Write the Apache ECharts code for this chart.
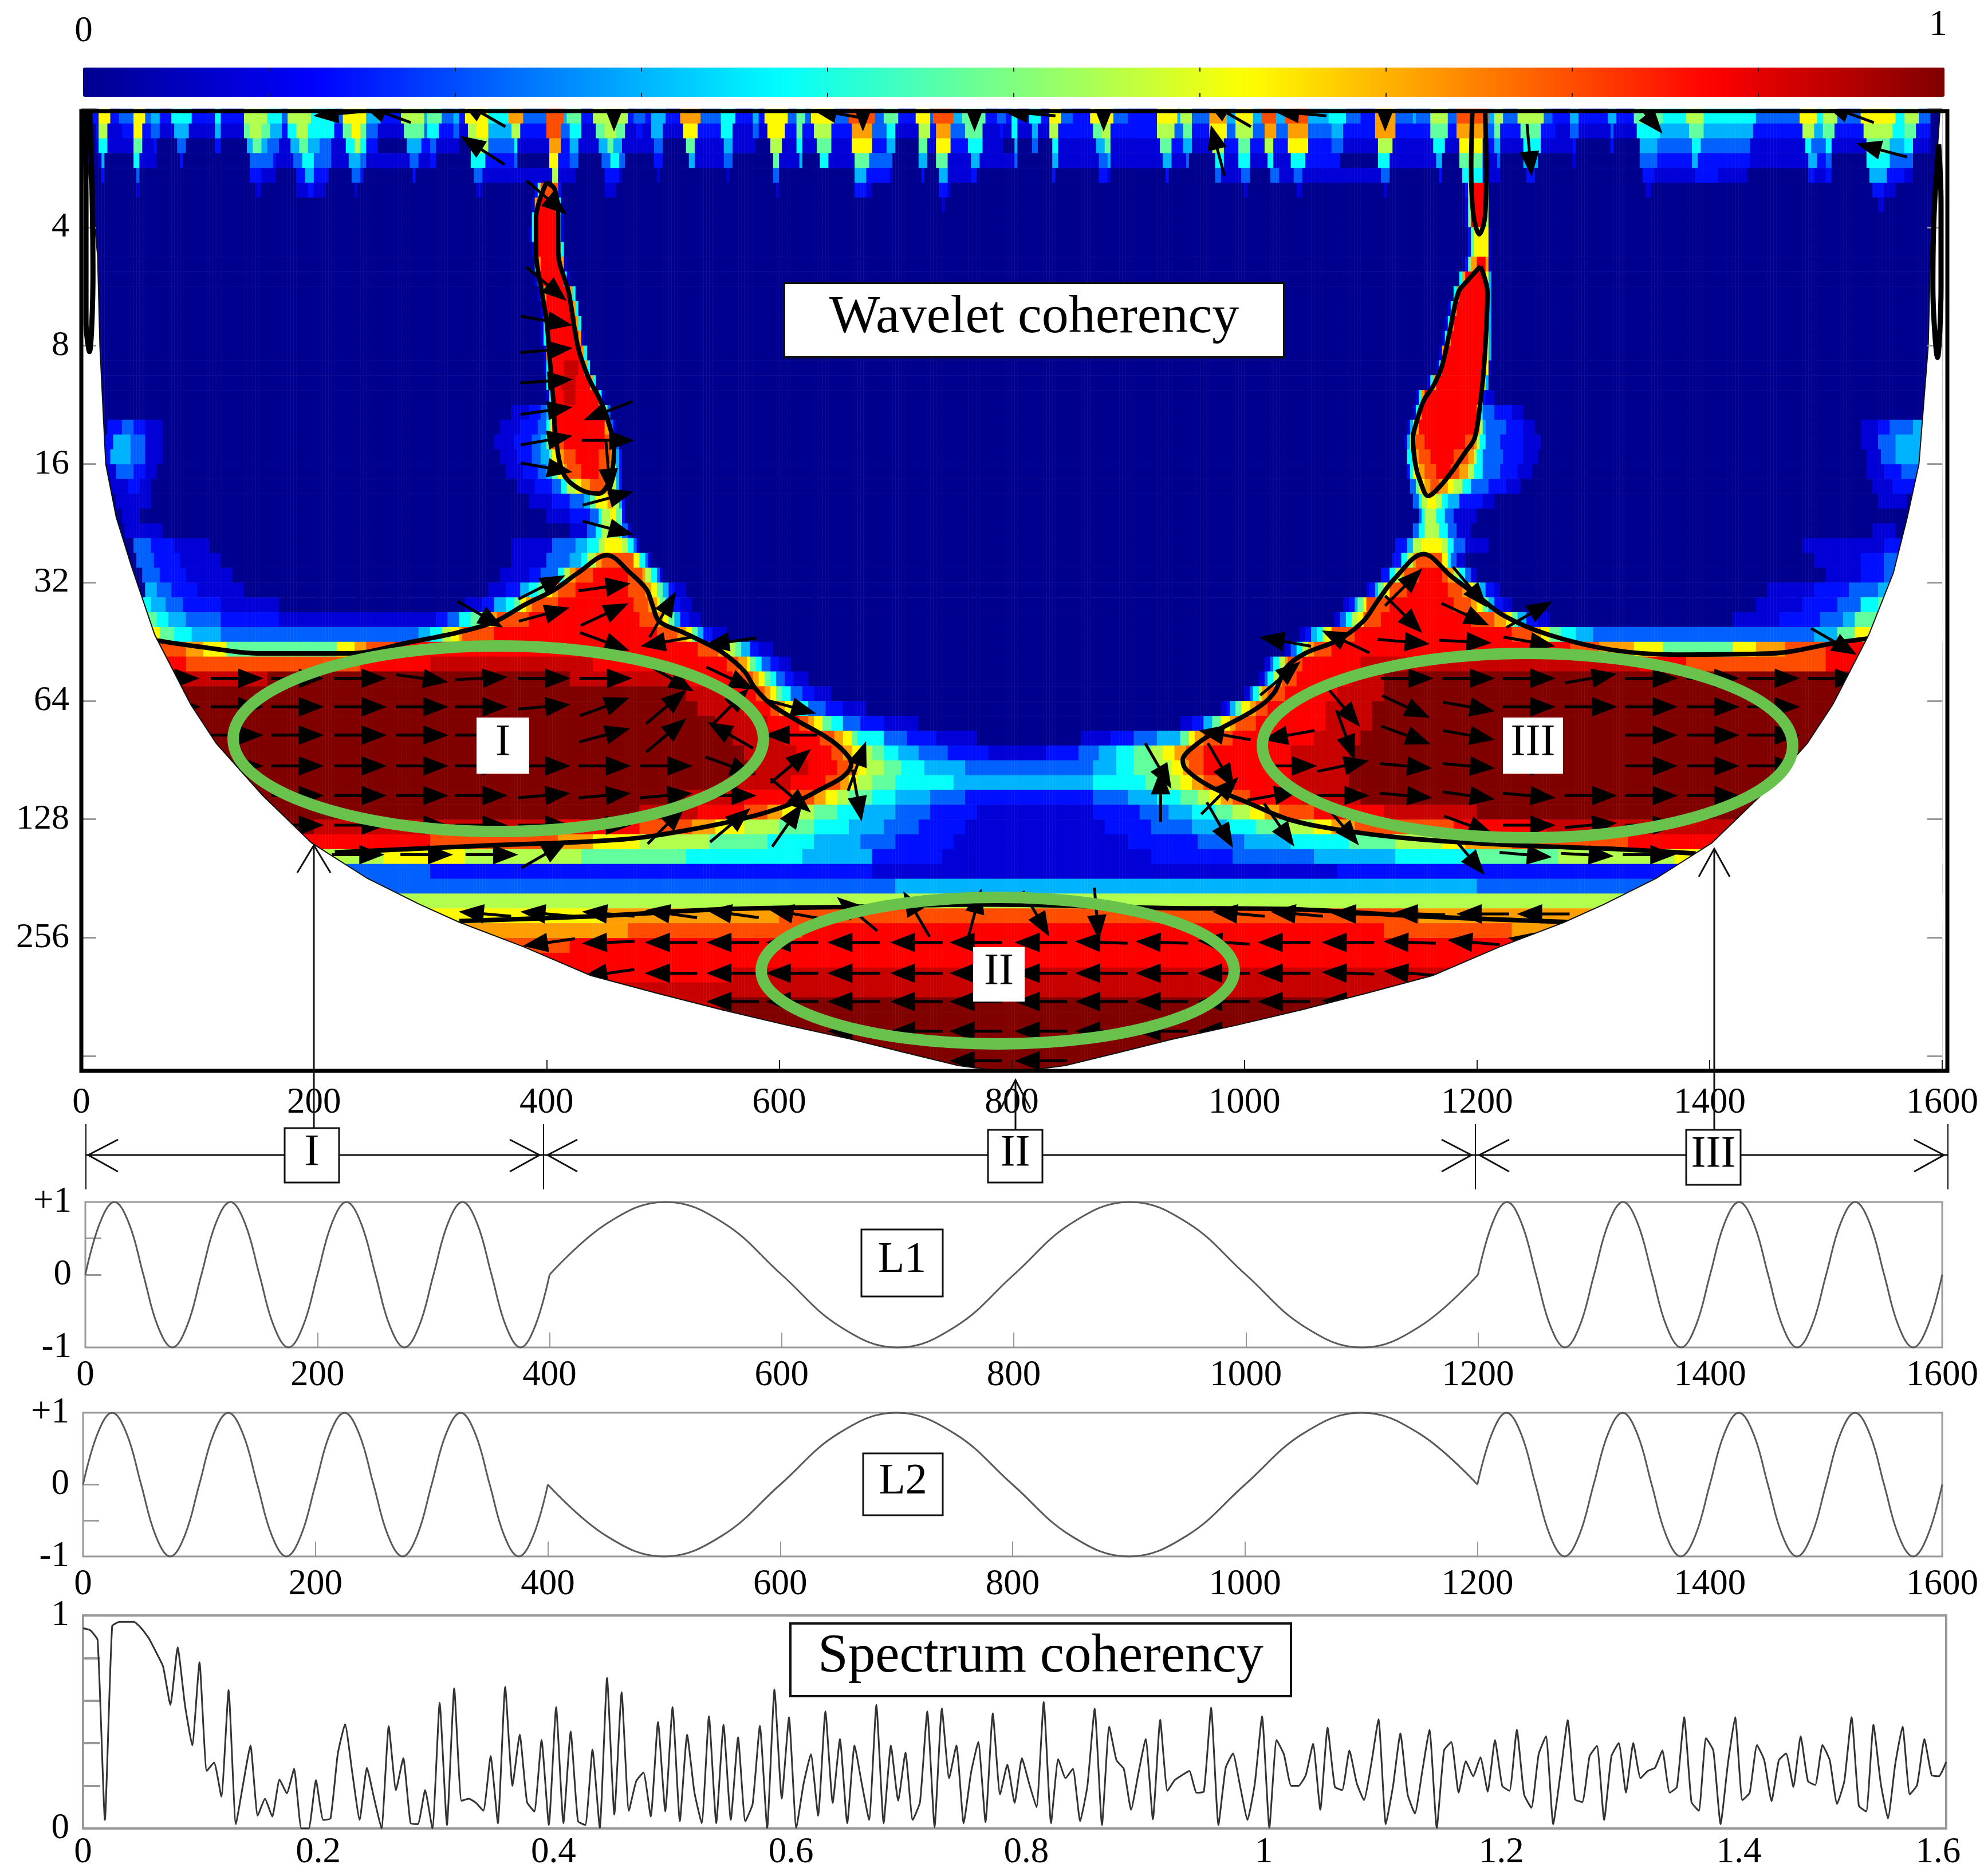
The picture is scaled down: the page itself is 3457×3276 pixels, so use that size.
<!DOCTYPE html>
<html><head><meta charset="utf-8">
<style>html,body{margin:0;padding:0;background:#fff}#c{width:3457px;height:3276px}</style>
<script src="https://cdn.jsdelivr.net/npm/echarts@6/dist/echarts.min.js"></script>
</head><body><div id="c"></div>
<script>
// ---------- wavelet coherency, run-length rows: "time:level" (level holds until next entry)
const levelCodes = '0123456789abcd';
const levelValues = [0,0.08,0.14,0.22,0.30,0.38,0.47,0.55,0.63,0.72,0.80,0.875,0.93,1];
const coherencyRows = [
"0:0 10:2 14:8 24:2 32:3 44:8 54:3 60:4 68:2 78:5 94:2 100:2 115:5 121:2 128:2 140:7 160:5 172:3 178:7 198:5 218:3 225:8 245:4 258:2 276:7 296:4 298:6 310:3 320:4 326:2 330:8 350:5 368:9 380:3 400:a 414:4 418:6 430:2 440:7 470:2 476:3 484:2 490:4 502:2 516:9 532:3 550:5 562:2 577:4 583:2 588:8 608:3 614:6 622:3 628:8 648:3 660:a 682:3 690:6 702:2 718:8 730:3 732:a 750:4 758:6 778:2 788:3 794:2 800:5 806:2 816:5 824:2 832:8 842:3 852:2 868:8 888:3 900:2 925:8 942:4 946:7 956:3 970:9 985:4 992:8 1008:4 1016:a 1028:4 1036:a 1056:4 1072:5 1088:3 1100:2 1112:9 1130:3 1145:4 1148:3 1160:7 1176:3 1182:a 1210:4 1214:7 1222:3 1235:7 1258:3 1266:2 1280:4 1288:2 1313:4 1319:2 1335:6 1360:5 1370:5 1380:7 1396:5 1416:5 1425:5 1440:3 1478:8 1492:5 1497:7 1510:3 1530:8 1560:5 1568:7 1580:3 1590:0",
"0:0 12:2 15:7 23:1 34:2 45:8 53:2 61:3 67:1 80:4 92:1 115:4 121:1 140:6 146:7 156:6 162:4 172:2 178:5 186:7 196:5 218:2 226:6 232:8 240:6 246:3 256:1 278:6 294:3 298:5 308:2 321:3 325:1 332:7 340:8 350:4 370:7 378:2 401:a 413:3 419:5 429:1 443:6 450:7 460:6 468:1 477:2 483:1 491:4 501:1 518:8 530:2 551:5 561:1 578:3 582:1 590:8 604:2 615:6 621:2 630:7 646:2 662:9 680:3 692:5 700:1 719:7 729:2 734:9 748:3 760:6 776:1 789:2 793:1 801:5 805:1 817:4 823:1 833:7 841:2 870:6 878:7 886:2 926:7 940:3 947:6 955:2 971:8 984:3 993:7 1007:3 1017:9 1027:3 1037:9 1055:3 1074:4 1086:2 1113:9 1129:2 1161:6 1175:2 1183:9 1208:3 1215:6 1221:2 1237:6 1256:2 1268:1 1281:3 1287:1 1314:3 1318:1 1337:5 1358:4 1368:4 1382:6 1394:4 1414:4 1425:4 1438:2 1480:7 1490:4 1498:6 1508:2 1532:7 1558:5 1568:6 1578:2 1590:0",
"0:0 13:1 16:5 22:1 36:1 46:6 52:1 62:2 66:0 82:3 90:0 116:2 120:0 142:4 148:6 154:4 160:3 170:1 180:4 188:6 194:4 205:3 216:1 228:5 234:7 240:5 246:2 254:0 280:4 292:2 300:3 306:1 322:1 324:0 334:6 342:7 350:3 372:5 376:1 402:9 412:2 420:4 428:1 445:4 452:6 458:4 466:1 492:3 500:0 520:6 528:1 552:4 560:1 579:2 581:0 592:7 602:1 616:5 620:1 632:6 644:1 663:8 680:2 693:4 699:0 720:6 728:1 735:8 747:2 762:5 774:1 790:1 792:0 802:4 804:0 818:3 822:0 834:5 840:1 872:4 880:6 884:1 928:6 938:2 948:4 954:1 972:7 983:2 994:6 1006:2 1018:7 1026:2 1038:8 1054:2 1076:3 1084:1 1114:7 1128:1 1163:5 1173:1 1184:8 1206:2 1216:4 1220:1 1239:5 1254:1 1282:2 1286:0 1315:2 1317:0 1339:4 1356:3 1366:3 1384:5 1392:3 1412:3 1426:3 1436:1 1482:5 1488:3 1499:5 1506:1 1534:6 1556:4 1568:5 1576:1 1590:0",
"0:0 14:1 17:4 21:0 46:5 51:1 63:1 65:0 84:2 88:0 144:3 156:3 164:2 168:1 182:3 190:5 200:3 214:1 230:4 240:3 244:1 282:3 290:1 301:2 305:0 336:5 348:2 373:3 375:0 403:8 411:2 421:3 427:0 447:3 455:5 463:3 467:0 493:2 499:0 522:4 527:1 553:3 559:0 594:6 601:1 617:4 619:0 634:5 642:1 664:6 678:3 694:3 698:0 721:4 727:0 736:6 746:1 764:4 772:1 803:3 804:0 819:2 821:0 835:4 839:1 874:3 882:4 884:1 930:4 937:1 950:3 953:0 974:5 982:1 996:5 1005:1 1020:5 1025:1 1040:5 1052:2 1078:2 1082:0 1116:5 1126:1 1165:4 1171:0 1186:6 1206:1 1217:3 1219:0 1241:4 1252:0 1283:1 1285:0 1341:3 1354:2 1364:2 1386:4 1390:2 1410:2 1427:2 1434:1 1484:4 1492:2 1500:3 1505:0 1536:5 1554:3 1570:3 1576:0",
"0:0 18:2 20:0 47:3 50:0 146:2 156:1 168:0 184:2 192:4 200:2 212:0 232:3 240:2 242:0 284:2 288:0 338:3 346:1 404:7 410:1 422:1 426:0 449:2 462:1 466:0 494:1 498:0 524:2 526:0 554:1 558:0 596:3 600:0 665:4 676:2 695:1 697:0 722:2 726:0 737:4 745:1 766:2 770:0 804:1 805:0 836:2 838:0 876:2 882:1 884:0 932:2 936:0 976:3 981:1 998:3 1004:0 1022:3 1030:1 1042:3 1050:1 1118:3 1124:0 1167:2 1170:0 1188:5 1204:1 1218:1 1219:0 1243:2 1250:0 1343:2 1352:1 1362:1 1388:2 1408:1 1428:1 1432:0 1486:2 1490:1 1500:2 1504:0 1538:4 1552:2 1568:1 1574:0",
"0:0 48:1 49:0 150:1 154:0 186:1 194:2 200:1 210:0 234:1 238:0 340:1 344:0 391:2 393:6 396:a 406:a 409:6 411:2 413:0 450:1 460:0 598:1 599:0 666:2 674:1 680:0 738:2 744:1 748:0 1000:1 1003:0 1044:1 1050:0 1120:1 1123:0 1190:2 1193:7 1196:b 1207:7 1209:3 1211:0 1345:1 1350:0 1540:2 1550:1 1560:0",
"0:0 388:1 389:5 391:9 393:b 408:9 410:5 412:1 413:0 740:1 742:0 1190:1 1192:6 1195:b 1207:7 1209:3 1211:0 1544:1 1550:0",
"0:0 387:1 388:5 390:9 392:b 409:9 411:5 413:1 414:0 1191:1 1192:6 1195:b 1208:7 1210:3 1211:0",
"0:0 386:1 387:5 389:9 391:b 409:9 411:5 413:1 414:0 1193:2 1195:6 1197:8 1207:8 1209:4 1211:1 1212:0",
"0:0 388:1 389:5 391:9 393:b 410:9 412:5 414:1 415:0 1193:2 1195:6 1197:8 1207:8 1209:4 1211:1 1212:0",
"0:0 389:1 390:5 392:9 394:b 412:9 414:5 416:1 417:0 1191:2 1193:6 1196:9 1200:b 1207:9 1209:5 1211:1 1212:0",
"0:0 390:1 392:5 394:9 396:b 414:9 416:5 418:1 419:0 1184:1 1186:5 1188:9 1190:b 1208:8 1210:4 1212:1 1213:0",
"0:0 393:1 395:5 397:9 399:b 420:9 422:5 425:1 426:0 1179:1 1181:5 1183:9 1185:b 1208:8 1210:4 1212:1 1213:0",
"0:0 395:1 397:5 399:9 401:b 423:9 425:5 427:1 428:0 1176:1 1178:5 1180:9 1182:b 1208:8 1210:4 1212:1 1213:0",
"0:0 395:1 397:5 399:9 401:b 425:9 427:5 429:1 430:0 1173:1 1175:5 1177:9 1179:b 1208:8 1210:4 1212:1 1213:0",
"0:0 396:1 398:5 400:9 402:b 427:9 429:5 431:1 432:0 1171:1 1173:5 1175:9 1177:b 1208:8 1210:4 1212:1 1213:0",
"0:0 397:1 399:5 401:9 403:b 430:9 432:5 434:1 435:0 1167:1 1169:5 1171:9 1173:b 1208:8 1210:4 1212:1 1213:0",
"0:0 398:1 400:5 402:9 404:b 415:c 428:b 433:9 435:5 437:1 438:0 1165:1 1167:5 1169:9 1171:b 1207:8 1209:4 1211:1 1212:0",
"0:0 399:1 401:5 403:9 405:b 412:c 425:b 438:9 440:5 442:1 443:0 1157:1 1160:5 1162:9 1164:b 1205:8 1207:4 1209:1 1210:0",
"0:0 400:1 402:5 404:9 406:b 416:c 426:b 444:9 446:5 448:1 449:0 1148:1 1151:5 1153:9 1155:b 1202:8 1204:5 1206:2 1208:1 1215:0",
"0:0 370:1 385:2 395:3 401:4 403:6 405:9 407:b 449:9 451:6 453:3 455:1 456:0 1145:1 1148:5 1150:9 1152:b 1201:8 1203:5 1205:3 1215:2 1230:1 1240:0",
"0:0 22:2 35:3 45:2 55:1 70:0 360:1 378:2 392:3 399:5 402:7 404:9 406:b 451:9 454:6 456:3 458:1 459:0 1140:1 1143:4 1146:7 1148:9 1150:b 1200:9 1202:7 1204:4 1208:3 1225:2 1240:1 1250:0 1530:1 1545:2 1555:3 1575:4",
"0:0 20:2 28:4 42:3 55:1 70:0 355:1 372:2 388:3 396:4 400:6 403:9 405:a 415:b 450:a 456:9 458:6 460:3 462:1 463:0 1138:1 1141:4 1143:7 1145:9 1147:a 1155:b 1190:a 1198:9 1201:7 1203:5 1207:3 1220:2 1240:1 1255:0 1530:1 1545:3 1560:4",
"0:0 20:2 26:4 42:3 55:1 70:0 360:1 375:2 388:3 396:4 402:6 406:8 410:9 414:a 425:b 445:a 455:9 459:7 461:4 463:2 465:0 1139:2 1141:5 1144:8 1147:9 1150:a 1160:b 1180:a 1192:9 1197:7 1201:5 1206:3 1222:2 1240:1 1252:0 1535:1 1548:3 1560:4",
"0:0 22:1 30:3 45:2 55:1 65:0 365:1 380:2 392:3 400:4 406:6 410:8 414:9 418:a 430:b 445:a 452:9 458:7 461:4 463:2 465:0 1140:2 1143:5 1146:8 1150:9 1155:a 1165:b 1178:a 1186:9 1192:7 1197:5 1204:3 1220:2 1235:1 1248:0 1535:1 1550:2 1565:3",
"0:0 25:1 40:2 50:1 60:0 375:1 390:2 405:3 412:5 418:7 425:8 430:9 438:a 450:9 456:7 460:4 463:2 465:0 1143:3 1147:6 1151:8 1155:9 1160:a 1168:9 1175:8 1180:7 1187:5 1194:3 1210:2 1225:1 1238:0 1540:1 1558:2",
"0:0 30:1 45:1 60:0 385:1 405:2 420:3 432:4 438:6 443:8 452:9 458:7 462:4 465:2 468:0 1146:3 1150:5 1153:7 1158:8 1165:7 1170:5 1176:4 1185:2 1205:1 1215:0 1545:1 1570:0",
"0:0 35:1 50:0 400:1 420:2 438:3 444:5 448:7 456:8 461:6 464:4 466:2 468:0 1150:3 1153:5 1156:7 1162:7 1166:5 1172:3 1180:1 1200:0",
"0:0 38:1 70:0 420:1 434:3 442:5 447:7 456:7 462:5 466:3 470:1 472:0 1146:3 1150:5 1155:7 1163:7 1168:5 1174:3 1182:1 1195:0 1540:1 1560:0",
"0:0 45:3 60:2 80:1 110:0 370:1 405:3 425:4 436:5 444:7 450:8 465:7 470:5 474:3 478:1 480:0 1130:2 1140:4 1146:7 1152:8 1170:7 1176:5 1181:3 1190:1 1210:0 1480:1 1550:2 1570:3",
"0:0 48:3 62:2 85:1 120:0 370:1 400:3 420:4 430:5 436:7 442:9 447:a 475:8 480:5 484:3 488:1 490:0 1128:2 1135:5 1140:7 1145:9 1148:a 1170:8 1174:5 1178:3 1182:1 1190:0 1490:1 1530:2 1550:3 1570:4",
"0:0 52:3 68:2 90:1 130:0 360:1 385:2 395:3 410:5 416:7 420:9 424:a 440:b 470:a 482:9 486:7 490:5 494:3 498:1 500:0 1118:2 1125:5 1130:7 1134:9 1138:a 1150:b 1170:a 1176:9 1180:7 1184:5 1190:3 1196:1 1200:0 1500:1 1530:2 1550:3 1575:5",
"0:0 55:4 66:3 78:2 100:1 140:0 350:1 365:2 378:4 385:5 393:6 400:8 405:9 410:a 425:b 470:a 484:9 489:8 494:6 499:4 504:2 510:1 520:0 1105:1 1108:2 1112:4 1116:6 1120:8 1124:a 1140:b 1175:a 1188:9 1193:8 1198:6 1203:4 1208:2 1214:1 1220:0 1450:1 1490:2 1520:3 1545:4 1560:5",
"0:0 50:5 60:4 72:3 88:2 120:1 170:0 330:1 345:2 355:4 365:5 372:6 378:8 382:9 387:a 410:b 475:a 488:9 494:8 498:6 503:4 508:2 515:1 525:0 1085:1 1090:2 1094:4 1098:6 1102:8 1106:a 1125:b 1180:a 1195:9 1200:8 1205:6 1210:4 1215:2 1222:1 1230:0 1440:1 1480:2 1510:3 1530:5 1545:6",
"0:6 65:5 75:4 90:3 120:2 170:1 290:1 305:2 315:3 325:5 335:6 345:8 352:9 358:a 385:b 480:a 494:9 500:8 504:6 510:4 516:2 523:1 533:0 1078:1 1083:3 1088:5 1092:7 1097:8 1102:a 1118:b 1195:a 1215:9 1224:8 1230:6 1236:4 1242:2 1252:1 1262:0 1420:1 1460:2 1495:3 1515:4 1525:6",
"0:8 68:6 80:5 95:4 120:3 170:3 240:3 275:3 290:4 300:5 310:7 318:8 324:9 328:a 355:b 495:a 512:9 519:8 524:6 530:4 536:2 543:1 555:0 1048:1 1053:2 1058:4 1063:5 1067:7 1071:8 1076:a 1095:b 1230:a 1247:9 1255:8 1262:6 1272:5 1285:4 1300:3 1330:3 1440:3 1490:4 1510:6 1525:8",
"0:a 90:9 105:8 125:6 220:8 235:9 245:a 270:b 530:a 548:9 553:8 558:7 562:6 568:4 575:2 582:1 595:0 1035:1 1040:3 1045:5 1050:7 1055:9 1060:a 1075:b 1280:a 1305:9 1335:8 1360:6 1420:8 1440:9 1465:a 1500:b",
"0:b 90:a 240:b 300:c 440:b 555:a 566:9 572:8 576:6 580:5 585:3 592:2 600:1 610:0 1018:1 1022:3 1026:5 1030:7 1034:9 1038:a 1050:b 1100:c 1340:b 1380:a 1500:b 1540:c",
"0:c 160:d 420:c 520:b 560:a 577:9 582:8 587:6 592:5 598:3 605:2 612:1 625:0 1013:1 1017:3 1021:5 1025:7 1029:9 1033:a 1045:b 1090:c 1120:d",
"0:d 470:d 520:c 560:b 580:a 588:9 593:8 598:6 603:5 610:3 620:2 630:1 645:0 1000:1 1004:3 1008:5 1012:7 1016:9 1021:a 1035:b 1080:c 1120:d",
"0:d 490:d 530:c 570:b 592:a 600:9 606:8 612:6 618:5 626:3 640:2 655:1 675:0 980:1 984:2 988:4 992:6 998:8 1004:9 1009:a 1020:b 1070:c 1110:d",
"0:d 500:d 545:c 590:b 618:a 625:9 631:8 638:6 645:5 655:3 670:2 690:1 720:0 945:1 955:2 965:4 972:6 980:8 987:9 992:a 1010:b 1070:c 1110:d",
"0:d 520:d 560:c 605:b 635:a 648:9 655:8 662:6 668:5 690:3 710:2 735:1 770:0 860:1 885:2 905:3 925:4 945:6 952:8 958:9 965:a 990:b 1060:c 1100:d",
"0:d 530:d 570:c 615:b 645:a 656:9 662:8 670:7 680:6 690:5 702:4 720:3 745:2 780:1 830:2 858:3 875:4 890:5 905:6 920:7 930:8 940:9 950:a 965:b 1040:c 1090:d",
"0:d 540:d 580:c 625:b 650:a 662:9 668:8 675:7 690:6 705:5 725:4 760:3 870:4 890:5 905:6 925:7 938:8 947:9 952:a 965:b 1040:c 1090:d",
"0:d 520:d 565:c 610:b 640:a 652:9 660:8 668:7 680:6 700:5 750:4 870:5 915:6 930:7 945:8 955:9 965:a 985:b 1040:c 1090:d",
"0:d 470:d 520:c 570:b 610:a 630:9 640:8 650:7 660:6 680:5 700:4 730:3 760:2 870:3 900:4 925:5 945:6 960:7 970:8 980:9 990:a 1005:b 1050:c 1100:d",
"0:d 430:d 480:c 530:b 570:a 590:9 602:8 615:7 630:6 650:5 670:4 700:3 730:2 770:1 870:2 910:3 935:4 955:5 975:6 990:7 1005:8 1018:9 1030:a 1060:b 1120:c 1200:d",
"0:d 200:c 400:b 480:a 525:9 545:8 570:7 600:6 630:5 660:4 690:3 720:2 760:1 880:2 920:3 955:4 985:5 1010:6 1035:7 1060:8 1075:9 1095:a 1180:b 1260:c",
"0:b 300:a 410:9 440:8 480:7 540:6 590:5 630:4 670:3 700:2 750:1 900:2 960:3 1000:4 1040:5 1090:6 1130:7 1170:8 1190:9 1230:a 1330:b",
"0:6 200:7 260:8 330:7 430:6 520:5 620:4 680:2 740:1 920:2 990:3 1060:4 1130:5 1200:6 1270:7 1370:8 1400:6",
"0:3 300:2 680:1 920:1 1080:2",
"0:3 700:4 1000:4 1200:3",
"0:7",
"0:8 450:9 600:a 1150:9 1300:8",
"0:9 470:a 620:b 980:b 1120:a 1230:9",
"0:a 420:b 1200:b 1270:a",
"0:b",
"0:b 560:c 1040:c 1200:b",
"0:c",
"0:c 550:d 1050:d 1300:c",
"0:d","0:d","0:d","0:d"
];
// cone of influence (time, log2 scale)
const coiLeft = [[0,1],[2,1.03],[7,1.62],[11,1.93],[14,2.24],[16,3.01],[21,4.0],[30,4.45],[43,4.86],[63,5.44],[94,6.03],[116,6.36],[156,6.8],[198,7.2],[246,7.5],[291,7.72],[325,7.87],[381,8.08],[438,8.32],[495,8.47],[551,8.61],[607,8.74],[663,8.86],[708,8.97],[754,9.08],[800,9.14]];
const coiRight = [[846,9.08],[892,8.97],[937,8.86],[993,8.74],[1049,8.61],[1105,8.47],[1162,8.32],[1219,8.08],[1275,7.87],[1309,7.72],[1354,7.5],[1402,7.2],[1444,6.8],[1484,6.36],[1506,6.03],[1537,5.44],[1558,4.92],[1570,4.45],[1580,4.0],[1588,3.0],[1590,2.2],[1594,1.62],[1598,1.03],[1600,1]];
// significance contours (time, log2 scale)
const contourLeftBand = [[65,5.49],[99,5.54],[156,5.6],[229,5.6],[285,5.5],[325,5.42],[356,5.33],[381,5.19],[407,5.06],[427,4.92],[452,4.77],[472,4.92],[486,5.06],[491,5.19],[497,5.33],[517,5.42],[534,5.5],[551,5.59],[570,5.75],[579,5.89],[593,6.03],[616,6.17],[641,6.31],[655,6.42],[662,6.53],[655,6.64],[635,6.75],[613,6.86],[579,6.97],[528,7.08],[466,7.17],[353,7.22],[218,7.28]];
const contourRightBand = [[1388,7.29],[1316,7.25],[1233,7.22],[1151,7.17],[1096,7.11],[1041,7.01],[1003,6.86],[970,6.72],[950,6.58],[947,6.5],[956,6.39],[975,6.26],[1008,6.08],[1025,5.94],[1036,5.72],[1052,5.6],[1080,5.49],[1102,5.33],[1115,5.15],[1129,4.97],[1154,4.76],[1178,4.95],[1200,5.11],[1223,5.28],[1261,5.44],[1316,5.57],[1371,5.61],[1453,5.6],[1509,5.51],[1539,5.47]];
const contourLowBand = [[325,7.86],[438,7.82],[551,7.76],[663,7.74],[776,7.72],[931,7.75],[1041,7.76],[1151,7.82],[1283,7.87]];
const contourStemLeft = [[400,1.62],[391,1.92],[391,2.21],[396,2.55],[400,2.79],[402,3.01],[404,3.27],[406,3.48],[408,3.78],[415,4.09],[430,4.22],[445,4.25],[454,4.14],[458,3.9],[457,3.78],[447,3.48],[436,3.27],[427,3.01],[419,2.55],[410,2.21],[410,1.92],[407,1.68],[400,1.62]];
const contourStemRightUp = [[1196,1.02],[1195,1.5],[1197,1.9],[1202,2.06],[1207,1.9],[1208,1.5],[1207,1.02]];
const contourStemRightLow = [[1203,2.33],[1192,2.45],[1184,2.55],[1177,2.86],[1170,3.17],[1163,3.33],[1154,3.47],[1147,3.68],[1145,3.78],[1147,4.0],[1151,4.14],[1158,4.27],[1168,4.19],[1178,4.07],[1190,3.9],[1198,3.78],[1203,3.47],[1206,3.18],[1208,2.86],[1209,2.55],[1203,2.33]];
const contourEdgeLeft = [[3,1.02],[4,1.8],[4,2.8],[7,3.05],[10,2.4],[9,1.6],[7,1.02]];
const contourEdgeRight = [[1597,1.3],[1593,1.9],[1592,2.5],[1596,3.1],[1599,2.5],[1599,1.8],[1597,1.3]];
// phase arrows: [log2 scale, time, angle, time, angle, ...]
const arrowRows = [
[0.97, 458,-90, 672,-90, 768,-90, 879,-90, 1121,-90],
[1.04, 222,185, 262,160, 345,150, 650,170, 815,175, 986,150, 1048,175, 1345,-50, 1520,160],
[1.35, 345,147, 977,105, 1245,-85, 1548,165],
[1.75, 400,-40],[2.48, 400,-40],
[2.79, 400,-10],[3.04, 400,5],[3.3, 400,4],
[3.55, 400,8, 453,201],[3.8, 400,10, 453,0],[4.03, 400,-10, 453,-85],
[4.29, 453,15],[4.54, 453,-15],
[5.04, 396,27, 450,8, 1137,45, 1194,-50],
[5.27, 343,-30, 398,15, 450,25, 500,60, 1137,-45, 1190,-25, 1245,30],
[5.5, 450,-20, 503,190, 558,188, 1035,170, 1087,155, 1137,-5, 1190,-3, 1245,-10, 1507,-30],
[5.81, 79,0, 134,0, 186,0, 240,0, 293,-8, 344,3, 398,0, 451,0, 507,-30, 558,-25, 1031,40, 1140,0, 1193,0, 1245,0, 1298,10, 1350,0, 1403,0, 1455,0, 1507,0],
[6.05, 80,0, 134,0, 186,0, 240,0, 293,0, 344,0, 398,5, 450,20, 503,40, 558,45, 610,-15, 1085,-50, 1139,-25, 1193,-10, 1245,0, 1298,0, 1350,0, 1403,0, 1455,0],
[6.29, 134,0, 186,0, 240,0, 293,0, 344,0, 450,15, 503,40, 558,150, 610,180, 983,170, 1038,190, 1087,-70, 1139,-20, 1193,-10, 1245,0, 1350,0, 1403,0, 1455,0],
[6.55, 134,0, 186,0, 240,0, 293,0, 344,0, 398,0, 450,0, 503,0, 558,-20, 610,40, 667,70, 926,-60, 980,-60, 1040,0, 1085,12, 1139,-5, 1193,-5, 1245,0, 1350,0, 1403,0, 1455,0],
[6.8, 186,0, 240,0, 293,0, 344,0, 398,5, 450,5, 503,5, 558,0, 610,-40, 667,-80, 928,90, 979,45, 1025,10, 1085,0, 1139,-5, 1193,-8, 1245,-5, 1298,0, 1350,0, 1403,0, 1455,0],
[7.05, 186,0, 240,0, 293,0, 344,0, 398,0, 450,0, 503,45, 558,40, 607,55, 979,-60, 1030,-55, 1084,-50, 1193,-20, 1245,0, 1298,5, 1350,0, 1455,0],
[7.3, 238,0, 297,0, 353,0, 398,30, 1192,-50, 1242,-5, 1295,-3, 1348,0],
[7.8, 347,175, 400,175, 453,175, 507,172, 560,172, 613,170, 667,140, 718,120, 768,75, 821,-60, 873,-85, 995,175, 1045,175, 1097,178, 1150,178, 1205,180, 1257,180],
[8.04, 402,188, 453,182, 507,180, 560,180, 611,180, 664,180, 718,180, 769,180, 825,180, 877,178, 929,178, 982,176, 1034,180, 1089,180, 1142,178, 1197,175, 1249,170],
[8.3, 453,188, 507,180, 560,180, 611,180, 664,180, 718,180, 769,180, 825,180, 877,180, 929,180, 982,180, 1034,180, 1089,178, 1142,175],
[8.54, 560,180, 611,180, 664,180, 718,180, 769,180, 825,180, 877,180, 929,180, 982,180, 1034,180, 1089,178],
[8.79, 664,180, 718,180, 769,180, 825,180, 877,180, 929,180, 982,180],
[9.04, 769,180, 825,180]
];
const scaleLabels = {2:'4',3:'8',4:'16',5:'32',6:'64',7:'128',8:'256'};
// L1, L2 signals
const fastTimes1 = [0,12.5,25,37.5,50,62.5,75,87.5,100,112.5,125,137.5,150,162.5,175,187.5,200,212.5,225,237.5,250,262.5,275,287.5,300,312.5,325,337.5,350,362.5,375,387.5,400];
const fastTimes3 = [1200,1212.5,1225,1237.5,1250,1262.5,1275,1287.5,1300,1312.5,1325,1337.5,1350,1362.5,1375,1387.5,1400,1412.5,1425,1437.5,1450,1462.5,1475,1487.5,1500,1512.5,1525,1537.5,1550,1562.5,1575,1587.5,1600];
const fastValues = [0,0.71,1,0.71,0,-0.71,-1,-0.71,0,0.71,1,0.71,0,-0.71,-1,-0.71,0,0.71,1,0.71,0,-0.71,-1,-0.71,0,0.71,1,0.71,0,-0.71,-1,-0.71,0];
const slowTimes = [400,450,500,550,600,650,700,750,800,850,900,950,1000,1050,1100,1150,1200];
const l1Slow = [0,0.71,1,0.71,0,-0.71,-1,-0.71,0,0.71,1,0.71,0,-0.71,-1,-0.71,0];
const l2Slow = [0,-0.71,-1,-0.71,0,0.71,1,0.71,0,-0.71,-1,-0.71,0,0.71,1,0.71,0];
// spectrum coherency: one value per 0.00625 frequency bin
const spectrumStep = 0.00625;
const spectrumValues = [.94,.93,.885,.04,.95,.97,.97,.97,.94,.895,.83,.76,.58,.85,.58,.39,.78,.27,.31,.15,.65,.02,.21,.39,.06,.14,.056,.23,.165,.28,0,0,.227,.04,.047,.35,.49,.26,.04,.285,.14,0,.48,.18,.33,.025,.02,.18,0,.59,.016,.657,.13,.14,.12,.083,.34,.025,.665,.2,.44,.124,.08,.415,.016,.57,.025,.455,.034,.016,.37,.003,.706,.065,.64,.083,.222,.263,.056,.5,.08,.57,.034,.44,.17,.025,.527,.025,.487,.04,.428,.034,.115,.482,.003,.652,.14,.522,.003,.21,.348,.06,.55,.12,.42,.025,.39,.21,.04,.58,.025,.39,.13,.356,.04,.124,.55,.007,.563,.236,.39,.025,.26,.406,.03,.54,.16,.3,.12,.33,.21,.1,.594,.025,.325,.236,.28,.034,.2,.563,.016,.478,.32,.28,.088,.258,.42,.043,.51,.177,.227,.25,.27,.168,.173,.567,.016,.285,.352,.195,.04,.21,.527,.003,.415,.348,.2,.2,.25,.397,.088,.473,.195,.18,.366,.213,.133,.303,.513,.02,.2,.446,.16,.07,.267,.464,.003,.366,.406,.168,.316,.245,.334,.173,.415,.2,.177,.464,.16,.097,.348,.433,.02,.258,.509,.137,.124,.339,.388,.04,.339,.401,.168,.401,.236,.27,.285,.366,.168,.195,.522,.124,.083,.424,.366,.02,.303,.522,.133,.168,.392,.32,.128,.32,.352,.195,.433,.222,.204,.392,.32,.115,.222,.522,.106,.08,.487,.213,.047,.303,.478,.16,.204,.42,.25,.245,.312];
const spectrumLabelPositions = [0,0.202,0.404,0.608,0.81,1.014,1.218,1.422,1.593];
const spectrumLabels = ['0','0.2','0.4','0.6','0.8','1','1.2','1.4','1.6'];

// ---------- decode rows
const colStep = 2.5, nCols = 640;
const timeCats = Array.from({length:nCols},(_,i)=>String(i*colStep));
const rowCats = coherencyRows.map((_,i)=>String(i));
const heatData = [];
coherencyRows.forEach((row,r)=>{
  const runs = row.split(' ').map(s=>{const p=s.split(':');return [+p[0],levelCodes.indexOf(p[1])];});
  let k=0;
  for(let c=0;c<nCols;c++){
    const t=c*colStep+colStep/2;
    while(k+1<runs.length && runs[k+1][0]<=t) k++;
    heatData.push([c,r,levelValues[runs[k][1]]]);
  }
});
const arrowData=[];
arrowRows.forEach(row=>{for(let i=1;i<row.length;i+=2) arrowData.push([row[i],row[0],row[i+1]]);});

// ---------- helpers
const SERIF='"Liberation Serif","Times New Roman",serif';
const chart=echarts.init(document.getElementById('c'),null,{width:3457,height:3276,renderer:'canvas'});
const contours=[contourLeftBand,contourRightBand,contourLowBand,contourStemLeft,contourStemRightUp,contourStemRightLow];
const edgeContours=[contourEdgeLeft,contourEdgeRight];
const graphics=[];
function box(x,y,w,h,txt,size,border,bw){
  graphics.push({type:'rect',z:30,silent:true,shape:{x,y,width:w,height:h},style:{fill:'#fff',stroke:border?'#111':null,lineWidth:bw||3}});
  graphics.push({type:'text',z:31,silent:true,x:x+w/2,y:y+h/2-4,style:{text:txt,font:size+'px '+SERIF,fill:'#000',textAlign:'center',textVerticalAlign:'middle'}});
}
function seg(pts,w,col){graphics.push({type:'polyline',z:29,silent:true,shape:{points:pts},style:{fill:null,stroke:col||'#111',lineWidth:w||3}});}
function ellipse(cx,cy,rx,ry){graphics.push({type:'ellipse',z:28,silent:true,shape:{cx,cy,rx,ry},style:{fill:null,stroke:'#69c24b',lineWidth:20}});}
['0','1'].forEach((s,i)=>graphics.push({type:'text',silent:true,z:30,x:[146,3384][i],y:[55,44][i],style:{text:s,font:'63px '+SERIF,fill:'#000',textAlign:'center',textVerticalAlign:'middle'}}));
for(let i=1;i<10;i++){const x=145+325*i;seg([[x,118],[x,125]],2,'#222');seg([[x,162],[x,169]],2,'#222');}
graphics.push({type:'rect',z:27,silent:true,shape:{x:142,y:194,width:3258,height:1676},style:{fill:null,stroke:'#000',lineWidth:7}});
ellipse(870,1290,463,162);ellipse(1742,1695,413,128);ellipse(2667,1302,463,161);
box(832,1253,92,98,'I',78);box(1699,1654,90,95,'II',78);box(2624,1253,105,98,'III',78);
box(1369,494,873,130,'Wavelet coherency',94,true,4);
box(1380,2835,874,127,'Spectrum coherency',95,true,4);
box(1504,2147,142,117,'L1',76,true,3);box(1507,2538,139,108,'L2',76,true,3);
[150,949,2576,3401].forEach(x=>seg([[x,1963],[x,2077]],2));
seg([[150,2017],[3401,2017]],3);
[[154,1],[942,-1],[956,1],[2569,-1],[2583,1],[3394,-1]].forEach(a=>seg([[a[0]+a[1]*52,1990],[a[0],2017],[a[0]+a[1]*52,2046]],3));
box(497,1970,95,95,'I',78,true,3);box(1725,1973,95,92,'II',78,true,3);box(2944,1973,95,96,'III',78,true,3);
[[548,1970,1476,1524,29],[1773,1973,1886,1936,26],[2993,1973,1482,1531,27]].forEach(a=>{
  seg([[a[0],a[1]],[a[0],a[2]]],3);
  seg([[a[0]-a[4],a[3]],[a[0],a[2]],[a[0]+a[4],a[3]]],3);
});

const labelStyle={fontFamily:SERIF,fontSize:63,color:'#000'};
const grayTick=(len,w)=>({show:true,inside:true,length:len,lineStyle:{color:'#999',width:w||2}});
function panelX(idx,margin){return {type:'value',gridIndex:idx,min:0,max:1600,interval:200,position:'bottom',axisLine:{show:false,onZero:false},splitLine:{show:false},axisTick:Object.assign(grayTick(26,2),{customValues:[200,400,600,800,1000,1200]}),axisLabel:Object.assign({margin,customValues:[0,200,400,600,800,1000,1200,1400,1600],formatter:v=>String(v)},labelStyle,{showMinLabel:true,showMaxLabel:true,hideOverlap:false})};}
function panelY(idx,tickVals){return {type:'value',gridIndex:idx,min:-1,max:1,interval:0.5,axisLine:{show:false,onZero:false},splitLine:{show:false},axisTick:Object.assign(grayTick(28,3),{customValues:tickVals}),axisLabel:Object.assign({margin:24,customValues:[-1,0,1],formatter:v=>v===1?'+1':String(v)},labelStyle)};}
const lineBase={type:'line',showSymbol:false,symbol:'none',silent:true,animation:false};
// panel index 1,2 -> axes index 2,3
function sig(idx,times,vals){return Object.assign({},lineBase,{xAxisIndex:idx+1,yAxisIndex:idx+1,smooth:0.4,data:times.map((t,i)=>[t,vals[i]]),lineStyle:{color:'#5a5a5a',width:3},clip:false});}

const option={
  animation:false,backgroundColor:'#fff',tooltip:{show:false},
  grid:[
    {left:142,top:190,width:3256,height:1681,show:false},
    {left:149,top:2099,width:3252,height:254,show:true,borderColor:'#999',borderWidth:3,backgroundColor:'transparent'},
    {left:145,top:2467,width:3253,height:251,show:true,borderColor:'#999',borderWidth:3,backgroundColor:'transparent'},
    {left:145,top:2821,width:3253,height:372,show:true,borderColor:'#999',borderWidth:4,backgroundColor:'transparent'}
  ],
  xAxis:[
    {type:'category',gridIndex:0,data:timeCats,show:false},
    {type:'value',gridIndex:0,min:0,max:1600,interval:200,position:'bottom',z:6,axisLine:{show:false,onZero:false},splitLine:{show:false},
      axisTick:{show:true,inside:true,length:20,lineStyle:{color:'#222',width:2}},
      axisLabel:Object.assign({margin:24,formatter:v=>String(v),showMinLabel:true,showMaxLabel:true,hideOverlap:false},labelStyle)},
    panelX(1,18),panelX(2,18),
    {type:'value',gridIndex:3,min:0,max:1.6,interval:0.2,axisLine:{show:false,onZero:false},splitLine:{show:false},axisTick:{show:false},
      axisLabel:Object.assign({margin:11,customValues:spectrumLabelPositions,formatter:v=>spectrumLabels[spectrumLabelPositions.indexOf(v)]},labelStyle)}
  ],
  yAxis:[
    {type:'category',gridIndex:0,data:rowCats,inverse:true,show:false},
    {type:'value',gridIndex:0,min:1,max:9.13,interval:1,inverse:true,position:'left',z:6,axisLine:{show:false,onZero:false},splitLine:{show:false},
      axisTick:{show:true,inside:true,length:26,lineStyle:{color:'#999',width:3}},
      axisLabel:Object.assign({margin:21,formatter:v=>scaleLabels[v]||''},labelStyle,{fontSize:62})},
    panelY(1,[0,0.5]),panelY(2,[0,-0.5]),
    {type:'value',gridIndex:3,min:0,max:1,interval:0.2,axisLine:{show:false,onZero:false},splitLine:{show:false},
      axisTick:Object.assign(grayTick(30,4),{customValues:[0.2,0.4,0.6,0.8]}),
      axisLabel:Object.assign({margin:24,customValues:[0,1],padding:[0,0,16,0]},labelStyle)},
    {type:'value',gridIndex:0,min:1,max:9.13,interval:1,inverse:true,position:'right',z:6,axisLine:{show:false,onZero:false},splitLine:{show:false},
      axisTick:{show:true,inside:true,length:26,lineStyle:{color:'#999',width:3}},axisLabel:{show:false}}
  ],
  visualMap:{type:'continuous',seriesIndex:0,dimension:2,min:0,max:1,orient:'horizontal',left:145,top:118,padding:0,itemWidth:51,itemHeight:3250,
    calculable:false,hoverLink:false,showLabel:false,text:null,
    inRange:{color:['#00008f','#0000ff','#0080ff','#00ffff','#80ff80','#ffff00','#ff8000','#ff0000','#800000']}},
  series:[
    {type:'heatmap',name:'Wavelet coherency',xAxisIndex:0,yAxisIndex:0,data:heatData,silent:true,progressive:0,animation:false,z:2,itemStyle:{borderWidth:0}},
    {type:'custom',name:'Phase',xAxisIndex:1,yAxisIndex:1,z:3,silent:true,clip:true,data:arrowData,
      renderItem:(p,api)=>{
        const c=api.coord([api.value(0),api.value(1)]);
        const a=api.value(2)*Math.PI/180,ux=Math.cos(a),uy=-Math.sin(a);
        const P=(al,pe)=>[c[0]+ux*al-uy*pe,c[1]+uy*al+ux*pe];
        return {type:'polygon',shape:{points:[P(-46,-2.5),P(2,-2.5),P(2,-17),P(46,0),P(2,17),P(2,2.5),P(-46,2.5)]},style:{fill:'#000'}};
      }},
    ...contours.map(c=>Object.assign({},lineBase,{xAxisIndex:1,yAxisIndex:1,z:4,smooth:0.35,data:c,lineStyle:{color:'#000',width:8},clip:true})),
    {type:'custom',xAxisIndex:1,yAxisIndex:1,z:5,silent:true,clip:true,data:[[0,1]],
      renderItem:(p,api)=>{
        const pts=coiLeft.concat(coiRight).map(q=>api.coord(q));
        pts.push(api.coord([1610,1]),api.coord([1610,9.5]),api.coord([-10,9.5]),api.coord([-10,1]));
        return {type:'polygon',shape:{points:pts},style:{fill:'#fff',stroke:'#111',lineWidth:2}};
      }},
    ...edgeContours.map(c=>Object.assign({},lineBase,{xAxisIndex:1,yAxisIndex:1,z:6,smooth:0.35,data:c,lineStyle:{color:'#000',width:9},clip:true})),
    sig(1,fastTimes1,fastValues),sig(1,slowTimes,l1Slow),sig(1,fastTimes3,fastValues),
    sig(2,fastTimes1,fastValues),sig(2,slowTimes,l2Slow),sig(2,fastTimes3,fastValues),
    Object.assign({},lineBase,{name:'Spectrum coherency',xAxisIndex:4,yAxisIndex:4,smooth:0.15,data:spectrumValues.map((v,i)=>[i*spectrumStep,v]),lineStyle:{color:'#333',width:3},clip:true})
  ],
  graphic:{elements:graphics}
};
chart.setOption(option);
</script></body></html>
